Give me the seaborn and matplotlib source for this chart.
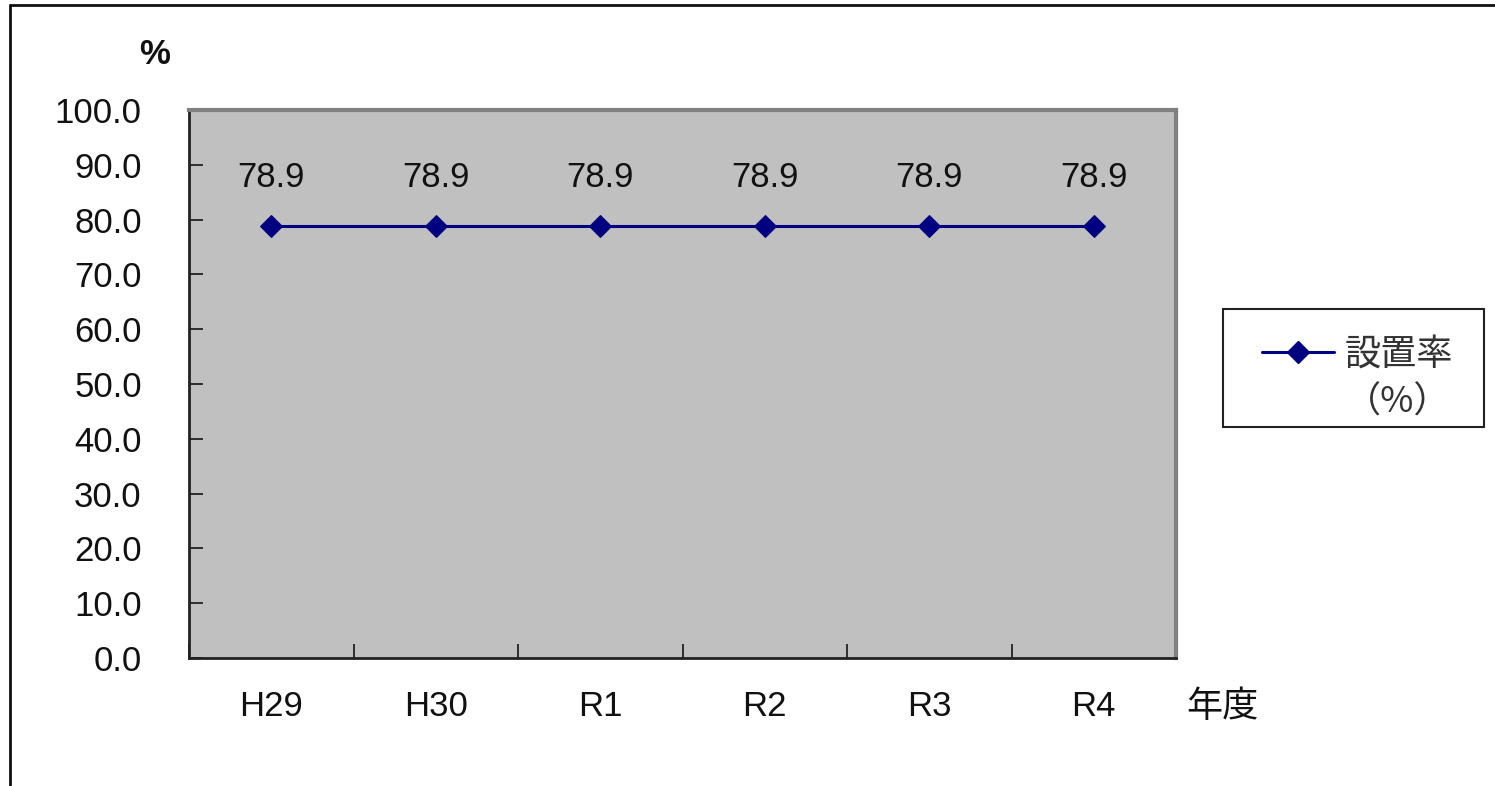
import matplotlib
matplotlib.use("Agg")
import matplotlib.pyplot as plt
import seaborn as sns
import numpy as np
import pandas as pd
from matplotlib.lines import Line2D
from matplotlib.patches import Rectangle

years = ["H29", "H30", "R1", "R2", "R3", "R4"]
rates = [78.9, 78.9, 78.9, 78.9, 78.9, 78.9]
series_label = ["設置率", "（%）"]
y_ticks = [0, 10, 20, 30, 40, 50, 60, 70, 80, 90, 100]

sns.set_theme(style="white")
plt.rcParams["font.family"] = ["Liberation Sans", "Noto Sans CJK JP", "DejaVu Sans"]

W, H = 1495, 786
fig = plt.figure(figsize=(W / 100, H / 100), dpi=100)
ax = fig.add_axes([189 / W, 1 - 658 / H, (1176 - 189) / W, (658 - 110) / H])
ax.set_facecolor("#c0c0c0")

df = pd.DataFrame({"year": years, "rate": rates})
sns.lineplot(data=df, x="year", y="rate", ax=ax, color="#000080", marker="D",
             markersize=11, linewidth=2.2, markeredgecolor="#000080", sort=False,
             legend=False)

for i, v in enumerate(rates):
    ax.annotate(f"{v:.1f}", (i, v), xytext=(0, 23), textcoords="offset points",
                ha="center", va="bottom", fontsize=25, color="#111111")

ax.set_xlim(-0.5, len(years) - 0.5)
ax.set_ylim(0, 100)
ax.set_yticks(y_ticks)
ax.set_yticklabels([f"{t:.1f}" for t in y_ticks], fontsize=25)
ax.set_xticks(range(len(years)))
ax.set_xticklabels(years, fontsize=25)
ax.set_xticks(np.arange(-0.5, len(years)), minor=True)
ax.tick_params(axis="x", which="major", bottom=True, length=0, pad=23, colors="#111111")
ax.tick_params(axis="x", which="minor", bottom=True, direction="in", length=10, width=1.3, color="#222222")
ax.tick_params(axis="y", which="major", left=True, direction="in", length=10, width=1.3,
               color="#222222", pad=34, labelcolor="#111111")
ax.set_xlabel("")
ax.set_ylabel("")

for s in ["left", "bottom"]:
    ax.spines[s].set_color("#222222")
    ax.spines[s].set_linewidth(2)
for s in ["top", "right"]:
    ax.spines[s].set_color("#808080")
    ax.spines[s].set_linewidth(3)

fig.text(155 / W, 1 - 55 / H, "%", fontsize=25, fontweight="bold", ha="center", va="center", color="#111111")
fig.text(1222 / W, 1 - 707 / H, "年度", fontsize=26, ha="center", va="center",
         color="#111111", family=["Noto Sans CJK JP", "DejaVu Sans"])

line_handle = Line2D([], [], color="#000080", marker="D", markersize=11, linewidth=2.2)
blank_handle = Line2D([], [], linestyle="none", marker=None)
leg = ax.legend(handles=[line_handle, blank_handle], labels=series_label,
                loc="upper left", bbox_to_anchor=(1262 / W, 1 - 337 / H),
                bbox_transform=fig.transFigure, frameon=False,
                handlelength=2.0, handletextpad=0.3,
                borderpad=0, borderaxespad=0, labelspacing=0.33,
                prop={"family": ["Noto Sans CJK JP", "DejaVu Sans"], "size": 26})
for t in leg.get_texts():
    t.set_color("#333333")

fig.add_artist(Rectangle((1223 / W, 1 - 427 / H), (1484 - 1223) / W, (427 - 309) / H,
                         transform=fig.transFigure, fill=False, edgecolor="#222222", linewidth=1.5))

fig.add_artist(Line2D([10 / W, 1], [1 - 5 / H, 1 - 5 / H], transform=fig.transFigure,
                      color="#111111", linewidth=2))
fig.add_artist(Line2D([10 / W, 10 / W], [0, 1 - 5 / H], transform=fig.transFigure,
                      color="#111111", linewidth=2))

fig.savefig("out.png", dpi=100, facecolor="white")
